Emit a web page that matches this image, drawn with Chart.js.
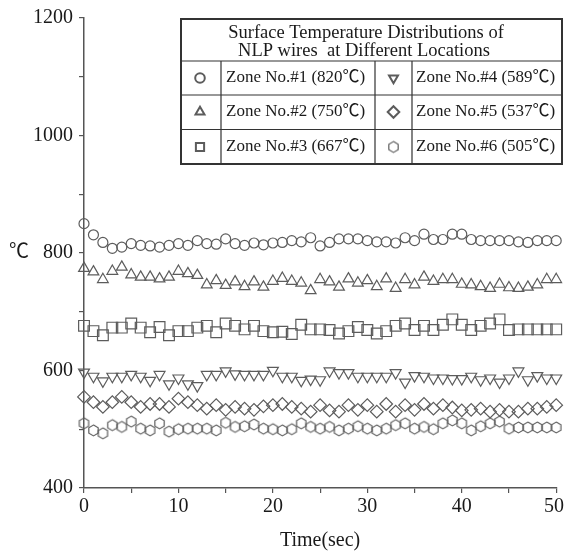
<!DOCTYPE html>
<html>
<head>
<meta charset="utf-8">
<script src="https://cdn.jsdelivr.net/npm/chart.js@4.4.0/dist/chart.umd.min.js"></script>
<style>
  html, body { margin: 0; padding: 0; background: #fff; }
  #wrap { width: 565px; height: 554px; }
</style>
</head>
<body>
<div id="wrap"><canvas id="myChart" width="565" height="554"></canvas></div>
<script>
// temps (sec)
var times = [0, 1, 2, 3, 4, 5, 6, 7, 8, 9, 10, 11, 12, 13, 14, 15, 16, 17, 18, 19, 20,
  21, 22, 23, 24, 25, 26, 27, 28, 29, 30, 31, 32, 33, 34, 35, 36, 37, 38, 39, 40,
  41, 42, 43, 44, 45, 46, 47, 48, 49, 50];

var zoneLabels = ["Zone No.#1 (820\u2103)", "Zone No.#2 (750\u2103)", "Zone No.#3 (667\u2103)",
  "Zone No.#4 (589\u2103)", "Zone No.#5 (537\u2103)", "Zone No.#6 (505\u2103)"];

var zone1 = [850, 831, 818, 808, 810, 816, 813, 812, 810, 813, 816, 813, 821, 816, 815, 824, 816,
  813, 817, 814, 817, 818, 821, 819, 826, 812, 818, 824, 824, 824, 821, 819, 819, 817, 826, 821,
  832, 823, 823, 832, 832, 823, 821, 821, 821, 821, 819, 818, 821, 821, 821];
var zone2 = [774, 768, 755, 769, 776, 763, 759, 759, 756, 759, 769, 765, 762, 746, 753, 745, 751,
  743, 751, 742, 752, 757, 752, 749, 736, 755, 751, 742, 756, 749, 753, 743, 756, 740, 755, 746,
  759, 752, 755, 755, 747, 746, 743, 740, 747, 741, 740, 742, 746, 755, 755];
var zone3 = [676, 667, 660, 673, 673, 680, 673, 665, 674, 660, 667, 667, 673, 676, 665, 680, 676,
  670, 676, 667, 665, 666, 662, 678, 670, 670, 669, 663, 667, 674, 669, 663, 667, 676, 680, 669,
  676, 669, 678, 687, 678, 669, 676, 680, 687, 669, 670, 670, 670, 670, 670];
var zone4 = [597, 590, 582, 590, 590, 593, 590, 583, 593, 577, 587, 577, 574, 593, 593, 599, 594,
  593, 593, 593, 600, 590, 590, 583, 585, 584, 599, 596, 596, 590, 590, 590, 590, 596, 580, 591,
  590, 587, 587, 586, 586, 590, 584, 587, 580, 587, 599, 584, 591, 587, 587];
var zone5 = [555, 546, 538, 546, 555, 546, 538, 543, 543, 538, 552, 546, 541, 535, 541, 533, 538,
  535, 533, 539, 541, 543, 538, 535, 530, 541, 532, 530, 541, 533, 541, 530, 543, 530, 541, 533,
  543, 535, 541, 537, 532, 533, 535, 530, 533, 530, 530, 535, 535, 538, 541];
var zone6 = [510, 498, 493, 507, 504, 513, 501, 498, 510, 496, 500, 501, 501, 501, 498, 511, 504,
  505, 508, 501, 500, 498, 500, 510, 504, 501, 504, 498, 501, 505, 501, 498, 501, 507, 510, 501,
  504, 500, 510, 515, 510, 498, 505, 510, 513, 501, 503, 503, 503, 503, 503];

var xTickLabels = [0, 10, 20, 30, 40, 50];

var markColor = "#5c5c5c";
var serif = "'Liberation Serif', 'Noto Sans CJK JP', 'DejaVu Serif', serif";

function makeHexagon(r) {
  var s = Math.ceil(r * 2 + 4);
  var c = document.createElement("canvas");
  c.width = s;
  c.height = s;
  var g = c.getContext("2d");
  g.strokeStyle = markColor;
  g.lineWidth = 1.2;
  g.beginPath();
  for (var i = 0; i < 6; i++) {
    var a = Math.PI / 3 * i - Math.PI / 2;
    var px = s / 2 + r * Math.cos(a);
    var py = s / 2 + r * Math.sin(a);
    if (i === 0) g.moveTo(px, py); else g.lineTo(px, py);
  }
  g.closePath();
  g.stroke();
  return c;
}

function toPoints(values) {
  return times.map((t, i) => ({ x: t, y: values[i] }));
}

var styles = [
  { pointStyle: "circle", rotation: 0, radius: 5, legendRadius: 4.8 },
  { pointStyle: "triangle", rotation: 0, radius: 6.2, legendRadius: 5.2 },
  { pointStyle: "rect", rotation: 0, radius: 7.6, legendRadius: 5.8 },
  { pointStyle: "triangle", rotation: 180, radius: 6.3, legendRadius: 5.2 },
  { pointStyle: "rectRot", rotation: 0, radius: 6.3, legendRadius: 5.8 },
  { pointStyle: makeHexagon(5.4), rotation: 0, radius: 5.4, legendRadius: 5 }
];
var series = [zone1, zone2, zone3, zone4, zone5, zone6];

var datasets = series.map((values, i) => ({
  label: zoneLabels[i],
  data: toPoints(values),
  showLine: false,
  pointStyle: styles[i].pointStyle,
  rotation: styles[i].rotation,
  pointRadius: styles[i].radius,
  pointBorderColor: markColor,
  pointBackgroundColor: "rgba(0,0,0,0)",
  pointBorderWidth: 1.2,
  clip: false
}));

// legende en tableau + textes des axes
var decorPlugin = {
  id: "decor",
  afterDraw(chart) {
    var ctx = chart.ctx;
    var xs = chart.scales.x;
    ctx.save();
    ctx.fillStyle = "#1a1a1a";
    ctx.font = "20px " + serif;
    ctx.textAlign = "center";
    ctx.textBaseline = "middle";
    xTickLabels.forEach((v) => {
      var px = xs.getPixelForValue(v);
      var w = ctx.measureText(String(v)).width;
      if (px + w / 2 > chart.width - 1) px = chart.width - 1 - w / 2;
      ctx.fillText(String(v), px, 507);
    });
    ctx.fillText("Time(sec)", (xs.left + xs.right) / 2, 541);
    ctx.fillText("\u2103", 19, 253);

    // tableau
    var L = 181, R = 562, T = 19, B = 164;
    var hl = 61, r1 = 95, r2 = 129.5;
    var c1 = 221, c2 = 375, c3 = 412;
    ctx.fillStyle = "#fff";
    ctx.fillRect(L, T, R - L, B - T);
    ctx.strokeStyle = "#333";
    ctx.lineWidth = 1.2;
    ctx.beginPath();
    ctx.moveTo(L, hl); ctx.lineTo(R, hl);
    ctx.moveTo(L, r1); ctx.lineTo(R, r1);
    ctx.moveTo(L, r2); ctx.lineTo(R, r2);
    [c1, c2, c3].forEach((cx) => { ctx.moveTo(cx, hl); ctx.lineTo(cx, B); });
    ctx.stroke();
    ctx.lineWidth = 2;
    ctx.strokeRect(L, T, R - L, B - T);

    ctx.fillStyle = "#1a1a1a";
    ctx.font = "18.5px " + serif;
    ctx.textAlign = "center";
    ctx.fillText("Surface Temperature Distributions of", 366, 33);
    ctx.fillText("NLP wires  at Different Locations", 364, 51);

    ctx.font = "17px " + serif;
    var rowY = [78, 112, 147];
    chart.data.datasets.forEach((ds, i) => {
      var col = Math.floor(i / 3), row = i % 3;
      var sx = col === 0 ? 200 : 393.5;
      var tx = col === 0 ? 226 : 416;
      ctx.save();
      ctx.strokeStyle = markColor;
      ctx.fillStyle = "rgba(0,0,0,0)";
      Chart.helpers.drawPoint(ctx, {
        pointStyle: styles[i].pointStyle,
        rotation: styles[i].rotation,
        radius: styles[i].legendRadius,
        borderWidth: 1.1
      }, sx, rowY[row]);
      ctx.restore();
      ctx.fillStyle = "#1a1a1a";
      ctx.textAlign = "left";
      ctx.fillText(ds.label, tx, rowY[row]);
    });
    ctx.restore();
  }
};

var chartInstance = new Chart(document.getElementById("myChart").getContext("2d"), {
  type: "scatter",
  data: { datasets: datasets },
  plugins: [decorPlugin],
  options: {
    responsive: false,
    animation: false,
    events: [],
    layout: { padding: { top: 18, right: 6, bottom: 0, left: 0 } },
    plugins: { legend: { display: false }, tooltip: { enabled: false } },
    scales: {
      x: {
        type: "linear",
        min: 0,
        max: 50,
        ticks: { display: false, stepSize: 5 },
        grid: { drawOnChartArea: false, drawTicks: true, tickLength: 5, color: "#555", lineWidth: 1.2 },
        border: { color: "#555", width: 1.5 },
        afterFit(scale) {
          scale.height = 66;
          scale.paddingLeft = 0;
          scale.paddingRight = 0;
        }
      },
      y: {
        min: 400,
        max: 1200,
        ticks: {
          stepSize: 100,
          padding: 6,
          color: "#1a1a1a",
          font: { family: serif, size: 20 },
          callback: (v) => (v % 200 === 0 ? v : "")
        },
        grid: { drawOnChartArea: false, drawTicks: true, tickLength: 5, color: "#555", lineWidth: 1.2 },
        border: { color: "#555", width: 1.5 },
        afterFit(scale) {
          scale.width = 84;
          scale.paddingTop = 0;
          scale.paddingBottom = 0;
        }
      }
    }
  }
});
</script>
</body>
</html>
